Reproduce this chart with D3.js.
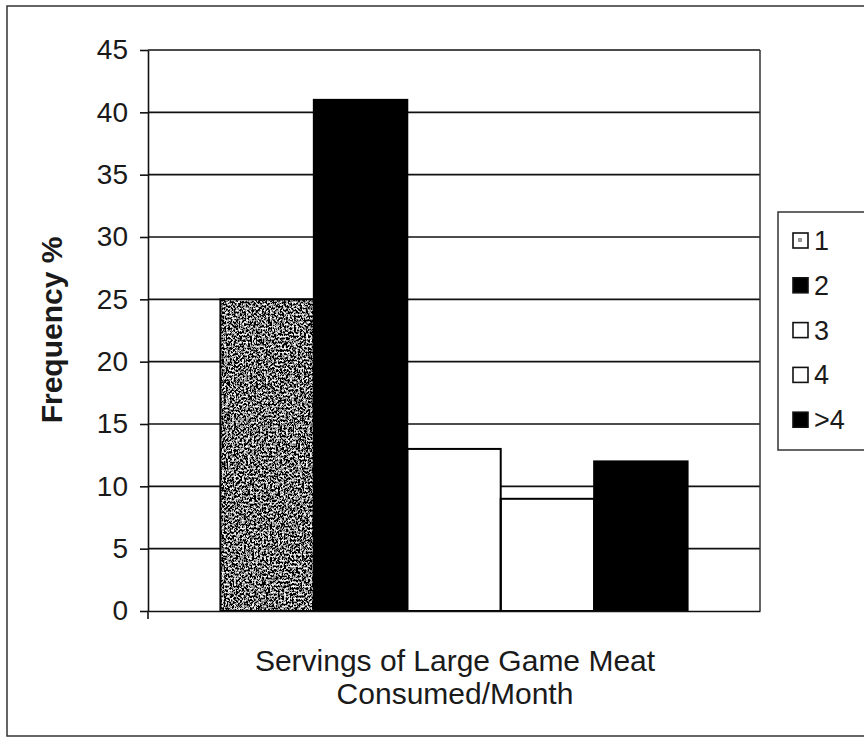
<!DOCTYPE html>
<html>
<head>
<meta charset="utf-8">
<script src="https://cdn.jsdelivr.net/npm/d3@7"></script>
<style>
  html, body { margin: 0; padding: 0; background: #fff; }
  svg { display: block; }
  text { font-family: "Liberation Sans", Arial, sans-serif; fill: #1a1a1a; }
</style>
</head>
<body>
<svg id="chart" width="864" height="739"></svg>
<script>
// Servings per month (legend categories) and their frequency in percent
const categories = ["1", "2", "3", "4", ">4"];
const values = [25, 41, 13, 9, 12];
const fills = ["grain", "#000000", "#ffffff", "#ffffff", "#000000"];
const group = ["Servings of Large Game Meat Consumed/Month"];
const xTitleLines = ["Servings of Large Game Meat", "Consumed/Month"];
const yTicks = [0, 5, 10, 15, 20, 25, 30, 35, 40, 45];
const yLabel = "Frequency %";

const svg = d3.select("#chart");
const plot = { left: 148, right: 760, top: 50, bottom: 611 };

// halftone-like grain for the first series
const defs = svg.append("defs");
const grain = defs.append("filter").attr("id", "grain")
  .attr("x", 0).attr("y", 0).attr("width", 1).attr("height", 1);
grain.append("feTurbulence").attr("type", "fractalNoise")
  .attr("baseFrequency", 0.5).attr("numOctaves", 3).attr("seed", 11).attr("result", "n");
grain.append("feColorMatrix").attr("in", "n").attr("type", "matrix")
  .attr("values", "3.6 0 0 0 -1.6  3.6 0 0 0 -1.6  3.6 0 0 0 -1.6  0 0 0 0 1")
  .attr("result", "g");
grain.append("feComposite").attr("in", "g").attr("in2", "SourceGraphic").attr("operator", "in");

// outer frame
svg.append("rect").attr("x", 7).attr("y", 6).attr("width", 900).attr("height", 730)
  .attr("fill", "#fff").attr("stroke", "#333").attr("stroke-width", 1.5);

const y = d3.scaleLinear().domain([0, 45]).range([plot.bottom, plot.top]);
const x0 = d3.scaleBand().domain(group).range([plot.left, plot.right])
  .paddingInner(0).paddingOuter(0.155);
const x1 = d3.scaleBand().domain(categories).range([0, x0.bandwidth()]).padding(0);

// gridlines
svg.append("g").selectAll("line").data(yTicks.filter(d => d > 0)).join("line")
  .attr("x1", plot.left).attr("x2", plot.right)
  .attr("y1", d => y(d)).attr("y2", d => y(d))
  .attr("stroke", "#111").attr("stroke-width", 1.6);
// plot area right edge
svg.append("line").attr("x1", plot.right).attr("x2", plot.right)
  .attr("y1", plot.top).attr("y2", plot.bottom)
  .attr("stroke", "#333").attr("stroke-width", 1.5);

// bars
const bars = svg.append("g").attr("transform", `translate(${x0(group[0])},0)`);
bars.selectAll("rect.fill").data(categories).join("rect").attr("class", "fill")
  .attr("x", d => x1(d)).attr("width", x1.bandwidth())
  .attr("y", (d, i) => y(values[i])).attr("height", (d, i) => y(0) - y(values[i]))
  .attr("fill", (d, i) => fills[i] === "grain" ? "#666" : fills[i])
  .attr("filter", (d, i) => fills[i] === "grain" ? "url(#grain)" : null);
bars.selectAll("rect.edge").data(categories).join("rect").attr("class", "edge")
  .attr("x", d => x1(d)).attr("width", x1.bandwidth())
  .attr("y", (d, i) => y(values[i])).attr("height", (d, i) => y(0) - y(values[i]))
  .attr("fill", "none").attr("stroke", "#000").attr("stroke-width", 2);

// y axis
const yAxis = d3.axisLeft(y).tickValues(yTicks).tickSize(8).tickPadding(12).tickSizeOuter(0);
const gy = svg.append("g").attr("transform", `translate(${plot.left},0)`).call(yAxis);
gy.select(".domain").attr("stroke", "#111").attr("stroke-width", 1.6);
gy.selectAll(".tick line").attr("stroke", "#111").attr("stroke-width", 1.6);
gy.selectAll(".tick text").attr("font-size", 28).attr("fill", "#1a1a1a")
  .attr("font-family", "Liberation Sans, Arial, sans-serif");

// x axis baseline
const xAxis = d3.axisBottom(x0).tickSize(0).tickFormat(() => "");
const gx = svg.append("g").attr("transform", `translate(0,${plot.bottom})`).call(xAxis);
gx.select(".domain").attr("stroke", "#111").attr("stroke-width", 1.6);
svg.append("line").attr("x1", plot.left).attr("x2", plot.left)
  .attr("y1", plot.bottom).attr("y2", plot.bottom + 8)
  .attr("stroke", "#111").attr("stroke-width", 1.6);

// axis titles
svg.append("text").attr("transform", "translate(62,330) rotate(-90)")
  .attr("text-anchor", "middle").attr("font-size", 30).attr("font-weight", "bold")
  .text(yLabel);
const xt = svg.append("text").attr("text-anchor", "middle").attr("font-size", 30);
xTitleLines.forEach((t, i) => {
  xt.append("tspan").attr("x", 455).attr("y", 671 + i * 33).text(t);
});

// legend
const lg = svg.append("g").attr("transform", "translate(778,212)");
lg.append("rect").attr("width", 100).attr("height", 238)
  .attr("fill", "#fff").attr("stroke", "#333").attr("stroke-width", 1.5);
const items = lg.selectAll("g.item").data(categories).join("g").attr("class", "item")
  .attr("transform", (d, i) => `translate(15,${29 + i * 44.8})`);
items.append("rect").attr("x", 0).attr("y", -8).attr("width", 15).attr("height", 15)
  .attr("fill", (d, i) => fills[i] === "grain" ? "#fff" : fills[i])
  .attr("stroke", "#111").attr("stroke-width", 1.6);
items.filter((d, i) => fills[i] === "grain").append("rect")
  .attr("x", 5).attr("y", -3).attr("width", 4).attr("height", 4).attr("fill", "#999");
items.append("text").attr("x", 21).attr("y", 9).attr("font-size", 27).text(d => d);
</script>
</body>
</html>
